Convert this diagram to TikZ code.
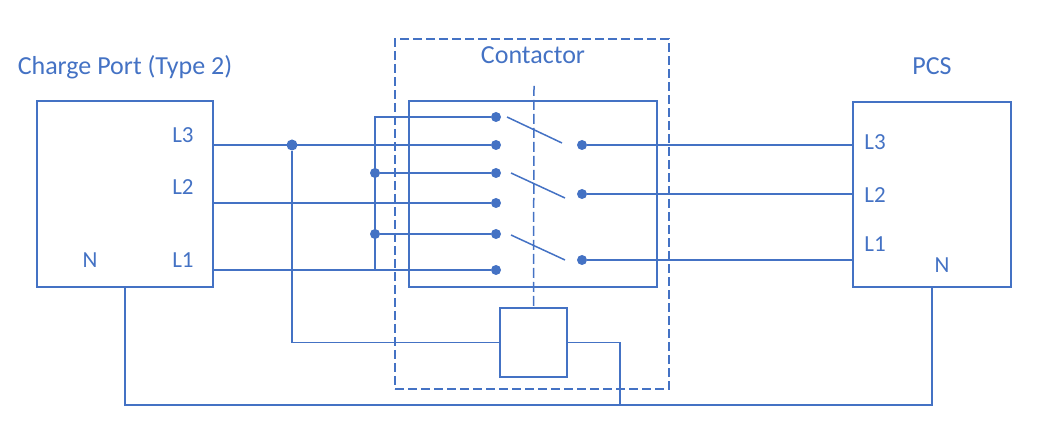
\documentclass[tikz,border=0pt]{standalone}
\usepackage{fontspec}
\setmainfont{Carlito}
\usetikzlibrary{calc}
\definecolor{wireblue}{HTML}{4472C4}
\tikzset{
  wire/.style={draw=wireblue, line width=1.5pt},
  unitbox/.style={draw=wireblue, line width=1.2pt, inner sep=0pt},
  term/.style={circle, fill=wireblue, inner sep=0pt, minimum size=10pt},
  lbl/.style={text=wireblue, font=\fontsize{23}{27}\selectfont},
  ttl/.style={text=wireblue, font=\fontsize{26}{30}\selectfont, anchor=base}
}
\begin{document}
\begin{tikzpicture}[x=1pt,y=-1pt]
        \useasboundingbox (0,0) rectangle (1038,443);
        % boxes
        \node[unitbox, minimum width=176, minimum height=186] (port) at (125,194) {};
        \node[unitbox, minimum width=158, minimum height=185] (pcs) at (932,194.5) {};
        \node[unitbox, dash pattern=on 9pt off 4pt, minimum width=274, minimum height=350] (contactor) at (532,214) {};
        \node[unitbox, minimum width=248, minimum height=186] (switches) at (533,194) {};
        \node[unitbox, minimum width=67, minimum height=69] (coil) at (533.5,342.5) {};
        % titles and labels
        \node[ttl] (porttitle) at (125,75) {Charge Port (Type 2)};
        \node[ttl] (pcstitle) at (932,75) {PCS};
        \node[ttl] (contitle) at (533,64) {Contactor};
        \node[lbl] (pl3) at (183,135) {L3};
        \node[lbl] (pl2) at (183,187.5) {L2};
        \node[lbl] (pl1) at (183,260.5) {L1};
        \node[lbl] (pn) at (90,260) {N};
        \node[lbl] (sl3) at (875,142.5) {L3};
        \node[lbl] (sl2) at (875,195) {L2};
        \node[lbl] (sl1) at (875,244.5) {L1};
        \node[lbl] (sn) at (942,265) {N};
        % terminals
        \foreach \i/\y in {1/117,2/145,3/173,4/203,5/234,6/270}
          \node[term] (a\i) at (496,\y) {};
        \node[term] (b1) at (582,145) {};
        \node[term] (b2) at (582,194) {};
        \node[term] (b3) at (582,260) {};
        \node[term] (c1) at (375,173) {};
        \node[term] (c2) at (375,234) {};
        \node[term, minimum size=11pt] (j3) at (292,145) {};
        \coordinate (busend) at (375,270);
        \coordinate (rod) at (534,86);
        \coordinate (nj) at (620,405);
        % switch blades
        \draw[wire] ($(a1)+(11,0)$) -- ($(b1)+(-20,-2)$);
        \draw[wire] ($(a3)+(15,0)$) -- ($(b2)+(-17,4)$);
        \draw[wire] ($(a5)+(15,1)$) -- ($(b3)+(-17,0)$);
        \draw[wire, dash pattern=on 10pt off 4pt] (rod) -- (coil.north);
        % wiring
        \draw[wire] (port.east |- a2) -- (a2);
        \draw[wire] (port.east |- a4) -- (a4);
        \draw[wire] (port.east |- a6) -- (a6);
        \draw[wire] (a1) -| (busend);
        \draw[wire] (c1) -- (a3);
        \draw[wire] (c2) -- (a5);
        \draw[wire] (b1) -- (b1 -| pcs.west);
        \draw[wire] (b2) -- (b2 -| pcs.west);
        \draw[wire] (b3) -- (b3 -| pcs.west);
        \draw[wire] (j3) |- (coil.west);
        \draw[wire] (coil.east) -| (nj);
        \draw[wire] (port.south) |- (nj) -| (pcs.south);
      \end{tikzpicture}
\end{document}
